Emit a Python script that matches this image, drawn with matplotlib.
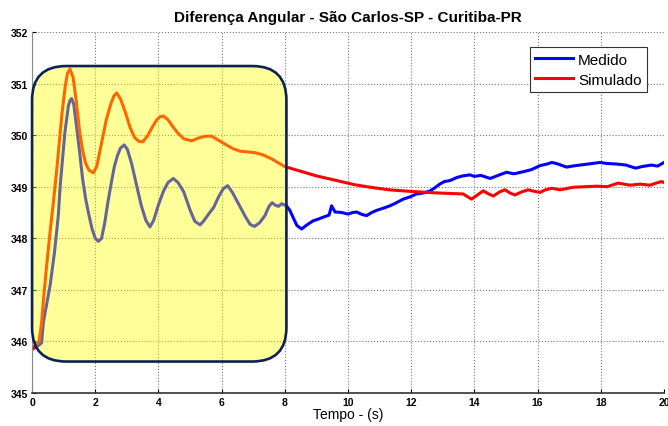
import matplotlib
matplotlib.use("Agg")
import matplotlib.pyplot as plt
from matplotlib.patches import FancyBboxPatch

plt.rcParams['font.family'] = ['Liberation Sans', 'DejaVu Sans']

t_med = [0.0, 0.15, 0.3, 0.36, 0.47, 0.57, 0.71, 0.83, 0.89, 1.04, 1.15, 1.2, 1.25, 1.32, 1.4,
         1.5, 1.6, 1.7, 1.8, 1.9, 2.0, 2.1, 2.2, 2.3, 2.4, 2.5, 2.6, 2.7, 2.8, 2.92,
         3.02, 3.15, 3.3, 3.45, 3.6, 3.73, 3.85, 4.0, 4.15, 4.3, 4.47, 4.62, 4.8, 5.0,
         5.15, 5.32, 5.45, 5.6, 5.75, 5.9, 6.05, 6.19, 6.35, 6.55, 6.75, 6.9, 7.04, 7.2,
         7.37, 7.5, 7.6, 7.7, 7.8, 7.9, 8.05,
         8.16, 8.28, 8.38, 8.53, 8.7, 8.9, 9.05, 9.22, 9.4, 9.48, 9.59, 9.8, 10.0, 10.15,
         10.27, 10.45, 10.59, 10.75, 10.9, 11.1, 11.33, 11.5, 11.75, 11.95, 12.17, 12.4,
         12.6, 12.75, 12.9, 13.05, 13.23, 13.45, 13.64, 13.86, 14.0, 14.2, 14.5, 14.75,
         15.02, 15.25, 15.54, 15.8, 16.08, 16.3, 16.45, 16.6, 16.92, 17.1, 17.34, 17.6,
         17.97, 18.2, 18.5, 18.8, 19.1, 19.3, 19.6, 19.8, 20.0]
v_med = [345.85, 345.9, 345.97, 346.38, 346.75, 347.08, 347.73, 348.44, 349.02, 350.06, 350.57, 350.67, 350.71, 350.6, 350.2,
         349.7, 349.15, 348.75, 348.45, 348.18, 348.0, 347.94, 348.0, 348.3, 348.7, 349.05, 349.38, 349.6, 349.75, 349.81,
         349.72, 349.45, 349.05, 348.65, 348.35, 348.22, 348.35, 348.65, 348.9, 349.08, 349.16, 349.08, 348.9, 348.55,
         348.33, 348.26, 348.35, 348.48, 348.6, 348.8, 348.96, 349.02, 348.88, 348.65, 348.42, 348.27, 348.23, 348.3,
         348.44, 348.62, 348.69, 348.64, 348.62, 348.67, 348.63,
         348.54, 348.38, 348.25, 348.18, 348.26, 348.34, 348.37, 348.41, 348.45, 348.63, 348.51, 348.5, 348.47, 348.5,
         348.51, 348.46, 348.44, 348.5, 348.54, 348.58, 348.63, 348.68, 348.76, 348.8, 348.86, 348.88,
         348.92, 348.98, 349.05, 349.1, 349.12, 349.18, 349.21, 349.23, 349.2, 349.22, 349.16, 349.22,
         349.28, 349.25, 349.29, 349.33, 349.41, 349.44, 349.47, 349.45, 349.38, 349.4, 349.42, 349.44,
         349.47, 349.45, 349.44, 349.42, 349.36, 349.39, 349.42, 349.4, 349.47]

# simulated angle difference
t_sim = [0.0, 0.15, 0.22, 0.3, 0.36, 0.45, 0.57, 0.67, 0.8, 0.94, 1.05, 1.12, 1.2, 1.3, 1.4,
         1.5, 1.6, 1.7, 1.8, 1.94, 2.05, 2.2, 2.35, 2.5, 2.6, 2.68, 2.8, 2.95, 3.1, 3.25,
         3.38, 3.5, 3.65, 3.8, 3.95, 4.06, 4.16, 4.3, 4.45, 4.6, 4.8, 5.05, 5.3, 5.5, 5.69,
         5.85, 6.1, 6.35, 6.58, 7.06, 7.3, 7.58, 8.0, 8.5, 9.0, 9.64, 10.2, 10.7, 11.3,
         11.96, 12.8, 13.64, 13.8, 13.91, 14.05, 14.28, 14.45, 14.6, 14.8, 14.97, 15.12,
         15.28, 15.5, 15.7, 15.9, 16.08, 16.25, 16.45, 16.71, 17.13, 17.5, 17.87, 18.2,
         18.55, 18.92, 19.24, 19.56, 19.75, 19.93, 20.0]
v_sim = [345.85, 345.95, 346.0, 346.35, 346.8, 347.4, 348.12, 348.67, 349.45, 350.38, 350.95, 351.2, 351.28, 351.12, 350.65,
         350.1, 349.7, 349.45, 349.32, 349.27, 349.4, 349.85, 350.3, 350.62, 350.77, 350.82, 350.7, 350.45, 350.15, 349.95,
         349.88, 349.87, 349.98, 350.15, 350.3, 350.36, 350.37, 350.3, 350.17, 350.05, 349.93, 349.89, 349.95, 349.98, 349.98,
         349.92, 349.83, 349.74, 349.69, 349.66, 349.62, 349.54, 349.39, 349.3, 349.21, 349.12, 349.04, 348.99, 348.94,
         348.91, 348.88, 348.86, 348.8, 348.76, 348.82, 348.92, 348.86, 348.82, 348.9, 348.94, 348.88,
         348.84, 348.9, 348.94, 348.91, 348.89, 348.94, 348.97, 348.94, 348.99, 349.0, 349.01, 349.0,
         349.07, 349.03, 349.05, 349.03, 349.07, 349.10, 349.08]

fig = plt.figure(figsize=(6.68, 4.27), dpi=100)
ax = fig.add_axes([0.048, 0.0773, 0.946, 0.8454])

ax.plot(t_med, v_med, color='#0000ff', lw=2.2, label='Medido')
ax.plot(t_sim, v_sim, color='#ff0000', lw=2.2, label='Simulado')

# highlighted region (yellow rounded box over the oscillation)
box = FancyBboxPatch((0, 345.61), 8.05, 5.73,
                     boxstyle="round,pad=0,rounding_size=1.08",
                     mutation_aspect=0.61,
                     facecolor=(1, 1, 0, 0.4), edgecolor='#0b2255',
                     lw=1.9, zorder=5, clip_on=False)
ax.add_patch(box)

ax.set_xlim(0, 20)
ax.set_ylim(345, 352)
ax.set_xticks(range(0, 21, 2))
ax.set_yticks(range(345, 353))
ax.tick_params(direction='in', length=3, labelsize=7.5, pad=3)
for lab in ax.get_xticklabels() + ax.get_yticklabels():
    lab.set_fontweight('bold')
ax.grid(True, linestyle=':', color='#777777', lw=0.8)
ax.spines['top'].set_visible(False)
ax.spines['right'].set_visible(False)
ax.spines['left'].set_color('#888888')
ax.spines['bottom'].set_color('#333333')
ax.spines['bottom'].set_linewidth(1.2)

ax.set_title('Diferença Angular - São Carlos-SP - Curitiba-PR', fontsize=11, fontweight='bold', pad=8)
ax.set_xlabel('Tempo - (s)', fontsize=10, labelpad=0)

leg = ax.legend(loc='upper right', bbox_to_anchor=(0.973, 0.958), borderaxespad=0, fontsize=11,
                fancybox=False, edgecolor='#333333', framealpha=1, handlelength=2.5,
                borderpad=0.35, labelspacing=0.4, handletextpad=0.3)
leg.get_frame().set_linewidth(0.8)

fig.savefig('out.png', dpi=100)
